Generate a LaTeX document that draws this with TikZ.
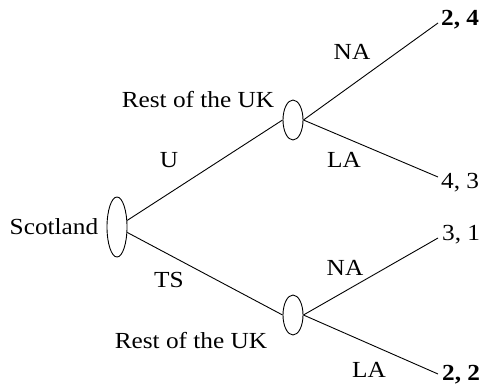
\documentclass[tikz,border=0pt]{standalone}
\usepackage{fontspec}
\setmainfont{Liberation Serif}[FakeStretch=1.1]
\usetikzlibrary{shapes.geometric}
\begin{document}
\begin{tikzpicture}[x=1pt,y=-1pt,
  every node/.style={font=\fontsize{23}{27}\selectfont},
  chance/.style={draw,ellipse,inner sep=0pt,line width=0.9pt},
  branch/.style={line width=0.9pt},
  lbl/.style={anchor=base,inner sep=0pt},
  pay/.style={anchor=base west,inner sep=0pt}]
  \useasboundingbox (0,0) rectangle (481,386);

  % decision nodes
  \node[chance,minimum width=20pt,minimum height=60pt] (s) at (117,227) {};
  \node[chance,minimum width=20pt,minimum height=40pt] (r1) at (293,120) {};
  \node[chance,minimum width=20pt,minimum height=40pt] (r2) at (293,315) {};

  % terminal points
  \coordinate (e1) at (438,23);
  \coordinate (e2) at (438,177);
  \coordinate (e3) at (438,238);
  \coordinate (e4) at (438,374);

  % branches
  \draw[branch] (s) -- (r1.west);
  \draw[branch] (s) -- (r2.west);
  \draw[branch] (r1.east) -- (e1);
  \draw[branch] (r1.east) -- (e2);
  \draw[branch] (r2.east) -- (e3);
  \draw[branch] (r2.east) -- (e4);

  % player labels
  \node[lbl] (ls) at (54,234) {Scotland};
  \node[lbl] (lr1) at (198,107) {Rest of the UK};
  \node[lbl] (lr2) at (191,348) {Rest of the UK};

  % move labels
  \node[lbl] (mu) at (169,167) {U};
  \node[lbl] (mts) at (169,287) {TS};
  \node[lbl] (mna1) at (352,59) {NA};
  \node[lbl] (mla1) at (344,167) {LA};
  \node[lbl] (mna2) at (345,275) {NA};
  \node[lbl] (mla2) at (369,377) {LA};

  % payoffs
  \node[pay] (p1) at (441,25) {\textbf{2, 4}};
  \node[pay] (p2) at (441,188) {4, 3};
  \node[pay] (p3) at (442,240) {3, 1};
  \node[pay] (p4) at (442,380) {\textbf{2, 2}};
\end{tikzpicture}
\end{document}
